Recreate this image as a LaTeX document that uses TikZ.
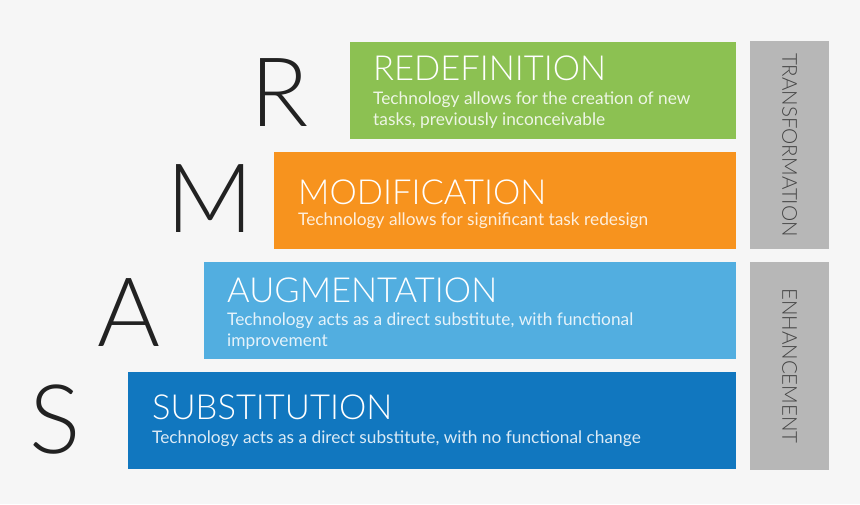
\documentclass[tikz,border=0pt]{standalone}
\usepackage{fontspec}
\setmainfont{Lato}
\newfontfamily\lightfont{Lato Light}
\usetikzlibrary{positioning}
\definecolor{pageGray}{HTML}{F6F6F6}
\definecolor{letterInk}{HTML}{222222}
\definecolor{sideGray}{HTML}{B7B7B7}
\definecolor{sideInk}{HTML}{444444}
\definecolor{redefGreen}{HTML}{8CC152}
\definecolor{modifOrange}{HTML}{F7931E}
\definecolor{augmSky}{HTML}{52AEE0}
\definecolor{substBlue}{HTML}{1177BF}

\begin{document}
\begin{tikzpicture}[
  x=1pt, y=-1pt,
  bar/.style={anchor=north west, minimum height=97pt, inner sep=0pt, outer sep=0pt},
  title/.style={anchor=base west, inner sep=0pt, text=white, font=\lightfont\fontsize{34.5}{34.5}\selectfont},
  desc/.style={anchor=base west, inner sep=0pt, text=white, text opacity=0.85, align=left, font=\fontsize{17.3}{21}\selectfont},
  letter/.style={anchor=base, inner sep=0pt, text=letterInk, font=\lightfont\fontsize{96}{96}\selectfont},
  side/.style={anchor=north west, fill=sideGray, minimum width=79pt, inner sep=0pt, outer sep=0pt},
  sidelabel/.style={rotate=-90, inner sep=0pt, text=sideInk, font=\lightfont\fontsize{20.5}{20.5}\selectfont}
]
\fill[pageGray] (0,0) rectangle (860,504);
\useasboundingbox (0,0) rectangle (860,504);

% Bars of the ladder
\node[bar, fill=redefGreen, minimum width=386pt] (redef) at (350,42) {};
\node[bar, fill=modifOrange, minimum width=462pt] (modif) at (274,152) {};
\node[bar, fill=augmSky, minimum width=532pt] (augm) at (204,262) {};
\node[bar, fill=substBlue, minimum width=608pt] (subst) at (128,372) {};

% Titles and descriptions (base of a two-line text is its last line)
\node[title] (redefT) at (373,80.5) {REDEFINITION};
\node[desc] (redefD) at (373,125) {Technology allows for the creation of new\\tasks, previously inconceivable};
\node[title] (modifT) at (298,204) {MODIFICATION};
\node[desc] (modifD) at (298,225) {Technology allows for significant task redesign};
\node[title] (augmT) at (227,302) {AUGMENTATION};
\node[desc] (augmD) at (227,346) {Technology acts as a direct substitute, with functional\\improvement};
\node[title] (substT) at (152,419) {SUBSTITUTION};
\node[desc] (substD) at (152,443) {Technology acts as a direct substitute, with no functional change};

% Letters on the left
\node[letter] (letterR) at (279.5,126) {R};
\node[letter] (letterM) at (210.5,232) {M};
\node[letter] (letterA) at (129,346) {A};
\node[letter] (letterS) at (55,453) {S};

% Side brackets
\node[side, minimum height=208pt] (transf) at (750,41) {};
\node[side, minimum height=208pt] (enhanc) at (750,262) {};
\node[sidelabel] (transfL) at (transf.center) {TRANSFORMATION};
\node[sidelabel] (enhancL) at (enhanc.center) {ENHANCEMENT};
\end{tikzpicture}
\end{document}
